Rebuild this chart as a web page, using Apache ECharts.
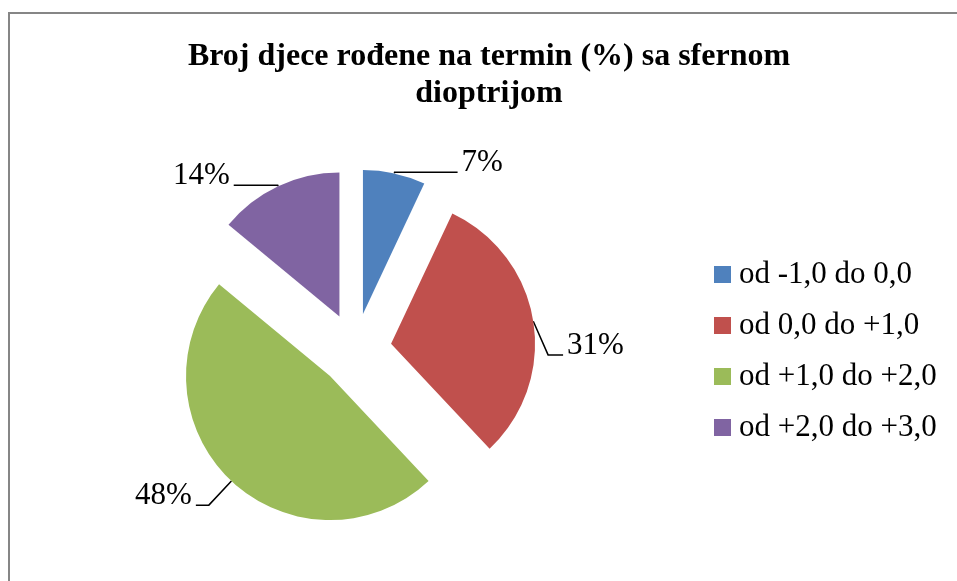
<!DOCTYPE html>
<html>
<head>
<meta charset="utf-8">
<script src="https://cdn.jsdelivr.net/npm/echarts@6/dist/echarts.min.js"></script>
<style>
html,body{margin:0;padding:0;background:#fff;}
#chart{width:957px;height:581px;}
</style>
</head>
<body>
<div id="chart"></div>
<script>
var titleText = 'Broj djece rođene na termin (%) sa sfernom\ndioptrijom';
var categories = ['od -1,0 do 0,0', 'od 0,0 do +1,0', 'od +1,0 do +2,0', 'od +2,0 do +3,0'];
var values = [7, 31, 48, 14];
var colors = ['#4F81BD', '#C0504D', '#9BBB59', '#8064A2'];
var leaderLengths = [[1, 63], [15, 15], [33, 13], [1, 44]];
var labelDrop = [0, 36, 0, 0];

var serif = '"Liberation Serif", "Times New Roman", serif';
var chart = echarts.init(document.getElementById('chart'), null, {renderer: 'canvas'});

var data = categories.map(function (name, i) {
  return {
    name: name,
    value: values[i],
    selected: true,
    itemStyle: {color: colors[i]},
    labelLine: {length: leaderLengths[i][0], length2: leaderLengths[i][1]}
  };
});

chart.setOption({
  animation: false,
  backgroundColor: '#ffffff',
  graphic: [{
    type: 'rect',
    shape: {x: 9, y: 13, width: 1200, height: 1000},
    style: {fill: 'none', stroke: '#868686', lineWidth: 2},
    silent: true,
    z: -1
  }],
  title: {
    text: titleText,
    left: 489,
    textAlign: 'center',
    top: 38,
    padding: 0,
    textStyle: {fontFamily: serif, fontWeight: 'bold', fontSize: 32, lineHeight: 37, color: '#000'}
  },
  legend: {
    orient: 'vertical',
    left: 714,
    top: 259,
    padding: 0,
    itemWidth: 17,
    itemHeight: 17,
    itemGap: 20,
    icon: 'rect',
    selectedMode: false,
    data: categories,
    textStyle: {fontFamily: serif, fontSize: 31, lineHeight: 30, color: '#000', padding: [0, 0, 0, 3]}
  },
  series: [{
    type: 'pie',
    center: [355, 349.5],
    radius: 144,
    startAngle: 90,
    clockwise: true,
    selectedMode: 'multiple',
    selectedOffset: 36.5,
    avoidLabelOverlap: false,
    percentPrecision: 0,
    label: {
      show: true,
      position: 'outside',
      formatter: '{d}%\n ',
      fontFamily: serif,
      fontSize: 31,
      lineHeight: 19,
      color: '#000',
      distanceToLabelLine: 4
    },
    labelLine: {show: true, lineStyle: {color: '#000', width: 1.5}},
    labelLayout: function (p) {
      var drop = labelDrop[p.dataIndex];
      if (!drop) { return {}; }
      var pts = p.labelLinePoints;
      return {
        dy: drop,
        labelLinePoints: [pts[0], [pts[1][0], pts[1][1] + drop], [pts[2][0], pts[2][1] + drop]]
      };
    },
    emphasis: {disabled: true},
    data: data
  }]
});
</script>
</body>
</html>
